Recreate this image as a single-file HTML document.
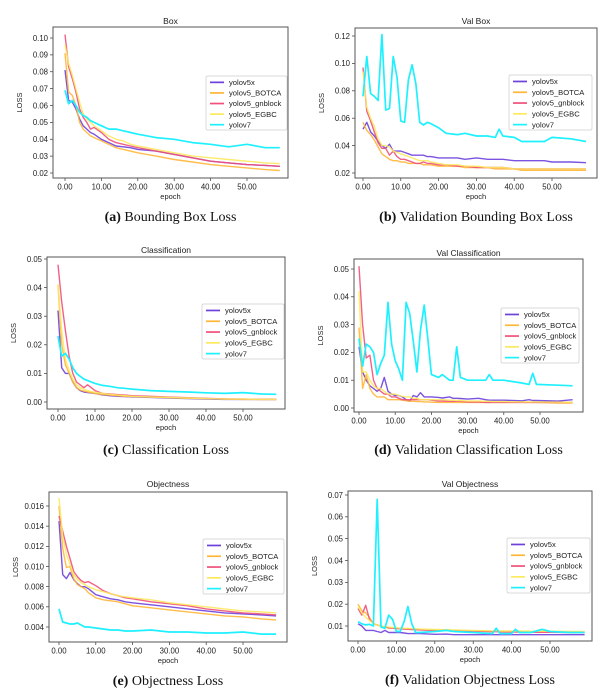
<!DOCTYPE html>
<html><head><meta charset="utf-8"><style>
html,body{margin:0;padding:0;background:#fff;}
svg{display:block;font-family:"Liberation Sans",sans-serif;}
.cap{font-family:"Liberation Serif",serif;font-size:14px;fill:#111;}
</style></head><body>
<svg id="fig" width="615" height="693" viewBox="0 0 615 693"></svg>
<script>
const seriesNames=["yolov5x","yolov5_BOTCA","yolov5_gnblock","yolov5_EGBC","yolov7"];
const seriesColors=["#6e40dc","#ffb638","#f0507a","#fbe95e","#1ff0ff"];
const xTicks=[0,10,20,30,40,50];

// (a) Box
const epochsA=[0,1,2,3,4,5,6,7,8,10,12,14,16,18,20,25,30,35,40,45,50,55,59];
const boxV5x=[.081,.063,.062,.058,.052,.048,.046,.044,.043,.040,.038,.036,.0355,.035,.034,.033,.031,.029,.027,.026,.025,.0245,.024];
const boxBotca=[.091,.068,.066,.060,.050,.046,.044,.042,.041,.039,.037,.035,.034,.033,.032,.030,.028,.0265,.025,.024,.023,.022,.0215];
const boxGn=[.102,.083,.076,.068,.058,.053,.050,.046,.047,.044,.040,.038,.037,.036,.035,.033,.031,.029,.027,.026,.025,.0245,.024];
const boxEgbc=[.096,.085,.078,.070,.062,.055,.052,.050,.048,.045,.042,.040,.039,.037,.036,.034,.032,.030,.029,.028,.027,.026,.0255];
const boxV7=[.069,.061,.063,.060,.056,.054,.053,.051,.050,.048,.046,.046,.045,.044,.043,.041,.040,.038,.037,.0355,.037,.035,.035];
const boxTicks=[.02,.03,.04,.05,.06,.07,.08,.09,.10];

// (b) Val Box
const epochsB=[0,1,2,3,4,5,6,7,8,9,10,11,12,13,14,15,16,17,18,20,22,25,27,30,33,35,36,37,40,42,45,48,50,55,59];
const vboxV5x=[.052,.057,.050,.047,.043,.040,.038,.041,.036,.036,.036,.035,.034,.033,.033,.033,.033,.032,.032,.031,.031,.031,.030,.031,.030,.030,.030,.030,.029,.029,.029,.029,.028,.028,.0275];
const vboxBotca=[.057,.051,.048,.044,.039,.034,.032,.030,.029,.029,.028,.028,.027,.027,.027,.027,.026,.026,.026,.025,.025,.025,.024,.024,.024,.023,.023,.023,.023,.022,.022,.022,.022,.022,.022];
const vboxGn=[.097,.065,.058,.050,.042,.038,.038,.033,.036,.032,.030,.030,.029,.028,.027,.027,.028,.027,.027,.026,.026,.025,.025,.024,.024,.024,.024,.024,.023,.023,.023,.023,.023,.023,.023];
const vboxEgbc=[.094,.068,.060,.054,.045,.040,.040,.039,.036,.035,.034,.033,.032,.031,.030,.029,.029,.029,.028,.027,.026,.026,.025,.025,.024,.024,.024,.024,.023,.023,.023,.023,.023,.023,.023];
const vboxV7=[.076,.105,.078,.076,.073,.121,.066,.067,.105,.090,.058,.057,.088,.099,.085,.057,.055,.057,.056,.053,.049,.048,.049,.047,.047,.046,.052,.047,.046,.043,.043,.043,.046,.045,.043];
const vboxTicks=[.02,.04,.06,.08,.10,.12];

// (c) Classification
const clsV5x=[.032,.012,.010,.010,.007,.005,.004,.0035,.0033,.003,.0025,.0022,.002,.0019,.0018,.0016,.0014,.0012,.001,.0009,.0009,.0009,.0009];
const clsBotca=[.041,.020,.013,.010,.007,.005,.0042,.0038,.0035,.003,.0026,.0024,.0022,.002,.0019,.0017,.0015,.0013,.0012,.001,.0009,.0009,.0009];
const clsGn=[.048,.035,.025,.016,.010,.007,.006,.005,.006,.004,.003,.0028,.0026,.0024,.0022,.002,.0017,.0015,.0013,.0011,.001,.0009,.0009];
const clsEgbc=[.041,.025,.015,.011,.008,.006,.005,.0045,.004,.0034,.003,.0027,.0024,.0022,.002,.0018,.0016,.0014,.0012,.001,.001,.0009,.0009];
const clsV7=[.023,.016,.017,.015,.012,.010,.009,.008,.0075,.0065,.0058,.0055,.005,.0048,.0045,.004,.0037,.0035,.0032,.003,.0033,.0028,.0027];
const clsTicks=[0,.01,.02,.03,.04,.05];

// (d) Val Classification
const epochsD=[0,1,2,3,4,5,6,7,8,9,10,11,12,13,14,15,16,17,18,19,20,22,23,25,26,27,28,30,33,35,36,37,40,45,47,48,49,55,59];
const vclsV5x=[.022,.013,.010,.008,.007,.006,.007,.011,.006,.005,.0045,.0045,.004,.003,.0025,.0045,.004,.0055,.004,.004,.004,.0038,.0036,.004,.0035,.0035,.0034,.0032,.0035,.003,.0028,.0028,.0028,.0026,.003,.0027,.0027,.0025,.003];
const vclsBotca=[.029,.007,.012,.007,.005,.004,.004,.004,.003,.003,.003,.003,.0028,.0026,.0024,.0024,.0023,.0023,.0022,.0022,.0021,.002,.002,.002,.002,.002,.002,.002,.002,.002,.002,.002,.002,.002,.002,.002,.002,.0018,.0018];
const vclsGn=[.051,.030,.018,.019,.010,.007,.006,.005,.005,.004,.004,.0035,.003,.003,.003,.003,.003,.003,.003,.003,.0028,.0025,.0025,.0024,.0024,.0024,.0024,.0022,.0022,.002,.002,.002,.002,.002,.002,.002,.002,.002,.002];
const vclsEgbc=[.042,.013,.013,.010,.008,.007,.007,.006,.005,.005,.005,.0045,.0042,.004,.004,.0035,.0035,.003,.003,.003,.003,.003,.003,.0028,.0028,.0027,.0027,.0025,.0025,.0024,.0024,.0023,.0023,.0022,.0022,.0022,.0022,.0021,.002];
const vclsV7=[.025,.015,.023,.022,.020,.012,.016,.019,.038,.023,.017,.014,.010,.038,.034,.024,.013,.028,.037,.025,.012,.011,.012,.010,.010,.022,.011,.010,.010,.010,.012,.010,.010,.009,.0085,.0125,.0085,.0082,.008];

// (e) Objectness
const objV5x=[.0145,.0092,.0088,.0094,.0087,.0083,.0080,.0080,.0078,.0072,.0070,.0068,.0067,.0065,.0064,.0062,.0060,.0058,.0056,.0054,.0053,.0052,.0051];
const objBotca=[.0160,.0118,.0099,.0100,.0088,.0082,.0080,.0078,.0074,.0069,.0067,.0066,.0065,.0063,.0061,.0059,.0057,.0055,.0053,.0051,.0050,.0048,.0047];
const objGn=[.0150,.0135,.0120,.0108,.0095,.0090,.0086,.0084,.0085,.0081,.0076,.0073,.0071,.0069,.0068,.0065,.0063,.0061,.0058,.0056,.0054,.0053,.0052];
const objEgbc=[.0168,.0130,.0112,.0102,.0092,.0087,.0084,.0082,.0080,.0077,.0075,.0073,.0071,.0070,.0069,.0067,.0064,.0062,.0060,.0058,.0056,.0055,.0054];
const objV7=[.0058,.0045,.0044,.0043,.0043,.0044,.0042,.0040,.0040,.0039,.0038,.0037,.0037,.0036,.0036,.0037,.0035,.0035,.0034,.0034,.0035,.0033,.0033];
const objTicks=[.004,.006,.008,.010,.012,.014,.016];

// (f) Val Objectness
const epochsF=[0,1,2,3,4,5,6,7,8,9,10,11,12,13,14,15,16,20,23,25,30,35,36,37,40,41,42,45,48,50,55,59];
const vobjV5x=[.011,.010,.008,.008,.008,.0075,.007,.008,.007,.007,.007,.007,.0068,.0065,.0065,.0065,.0065,.0062,.0063,.006,.006,.006,.006,.006,.006,.006,.006,.006,.006,.006,.006,.006];
const vobjBotca=[.020,.017,.016,.014,.011,.0105,.010,.0095,.009,.009,.009,.009,.0088,.0087,.0087,.0086,.0085,.0082,.0082,.008,.0078,.0076,.0076,.0075,.0075,.0075,.0075,.0074,.0074,.0074,.0073,.0073];
const vobjGn=[.018,.015,.0195,.013,.011,.0105,.010,.0095,.0092,.009,.0088,.0087,.0086,.0085,.0084,.0083,.0082,.0080,.008,.0078,.0076,.0074,.0074,.0073,.0072,.0072,.0072,.0071,.0071,.0071,.007,.007];
const vobjEgbc=[.019,.016,.014,.0125,.011,.0105,.010,.0097,.0095,.0093,.0092,.009,.009,.0089,.0088,.0087,.0086,.0084,.0083,.0082,.008,.0078,.0078,.0077,.0077,.0077,.0077,.0076,.0076,.0076,.0075,.0075];
const vobjV7=[.012,.011,.0105,.0108,.010,.068,.0095,.009,.015,.013,.0075,.0075,.012,.019,.011,.007,.007,.0075,.008,.0075,.007,.0065,.009,.0065,.0065,.0085,.007,.007,.0085,.0075,.007,.007];
const vobjTicks=[.01,.02,.03,.04,.05,.06,.07];

const NS="http://www.w3.org/2000/svg";
const svg=document.getElementById("fig");
function mk(tag,attrs,parent,txt){const e=document.createElementNS(NS,tag);for(const k in attrs)e.setAttribute(k,attrs[k]);if(txt!==undefined)e.textContent=txt;(parent||svg).appendChild(e);return e;}

function chart(c){
  const g=mk("g",{});
  
  
  const xs=v=>c.x0+(v-0)*(c.x50-c.x0)/50;
  const ys=v=>c.yb+(v-c.ylo)*(c.yt-c.yb)/(c.yhi-c.ylo);
  const t=mk("text",{x:(c.L+c.R)/2,y:c.titleY,"font-size":8.5,"text-anchor":"middle",fill:"#222"},g,c.title);
  
  
  c.yTicks.forEach(v=>{
    const y=ys(v);
    mk("line",{x1:c.L-3,x2:c.L,y1:y,y2:y,stroke:"#333","stroke-width":0.7},g);
    const l=mk("text",{x:c.L-5,y:y+2.8,"font-size":7.8,"text-anchor":"end",fill:"#222"},g,v.toFixed(c.dec));
    
    
  });
  xTicks.forEach(v=>{
    const x=xs(v);
    mk("line",{x1:x,x2:x,y1:c.B,y2:c.B+3,stroke:"#333","stroke-width":0.7},g);
    const l=mk("text",{x:x,y:c.B+11.5,"font-size":7.8,"text-anchor":"middle",fill:"#222"},g,v.toFixed(2));
    
    
  });
  const xl=mk("text",{x:(c.L+c.R)/2,y:c.B+21,"font-size":7.5,"text-anchor":"middle",fill:"#222"},g,"epoch");
  
  
  const yx=c.L-31, yy=(c.T+c.B)/2;
  const yl=mk("text",{x:yx,y:yy,"font-size":7.5,"text-anchor":"middle",fill:"#222",transform:`rotate(-90 ${yx} ${yy})`},g,"LOSS");
  
  
  c.series.forEach((s,i)=>{
    const d=s.map((v,j)=>(j?"L":"M")+xs(c.epochs[j]).toFixed(1)+","+ys(v).toFixed(1)).join("");
    const p=mk("path",{d:d,fill:"none",stroke:seriesColors[i],"stroke-width":i==4?1.7:1.4,"stroke-opacity":i==4?1:0.9,"stroke-linejoin":"round"},g);
    
    
  });
  const fr=mk("rect",{x:c.L,y:c.T,width:c.R-c.L,height:c.B-c.T,fill:"none",stroke:"#555","stroke-width":1},g);
  
  
  const lg=mk("g",{},g);
  
  
  mk("rect",{x:c.lx,y:c.ly,width:c.lw,height:c.lh,fill:"#fff",stroke:"#ccc","stroke-width":0.7,rx:1.5},lg);
  const step=c.lh/5.1;
  seriesNames.forEach((n,i)=>{
    const y=c.ly+step*(i+0.6);
    mk("line",{x1:c.lx+4,x2:c.lx+18,y1:y,y2:y,stroke:seriesColors[i],"stroke-width":1.7},lg);
    const e=mk("text",{x:c.lx+23,y:y+2.7,"font-size":7.6,fill:"#222"},lg,n);
    
    
  });
  const cp=mk("text",{x:(c.L+c.R)/2,y:c.capY,"text-anchor":"middle",class:"cap"},g);
  
  
  mk("tspan",{"font-weight":"bold"},cp,c.capL+" ");
  mk("tspan",{},cp,c.capT);
}

chart({id:"box",title:"Box",L:53,R:288,T:27,B:178,x0:65,x50:247,yb:173,yt:38,ylo:.02,yhi:.10,yTicks:boxTicks,dec:2,
  epochs:epochsA,series:[boxV5x,boxBotca,boxGn,boxEgbc,boxV7],lx:206,ly:76,lw:81,lh:54,titleY:24,capY:221,capL:"(a)",capT:"Bounding Box Loss"});
chart({id:"val-box",title:"Val Box",L:355,R:597,T:28,B:178,x0:363,x50:552,yb:173,yt:36,ylo:.02,yhi:.12,yTicks:vboxTicks,dec:2,
  epochs:epochsB,series:[vboxV5x,vboxBotca,vboxGn,vboxEgbc,vboxV7],lx:509,ly:75,lw:83,lh:55,titleY:24,capY:221,capL:"(b)",capT:"Validation Bounding Box Loss"});
chart({id:"cls",title:"Classification",L:47,R:285,T:257,B:409,x0:58,x50:243,yb:402,yt:259,ylo:0,yhi:.05,yTicks:clsTicks,dec:2,
  epochs:epochsA,series:[clsV5x,clsBotca,clsGn,clsEgbc,clsV7],lx:202,ly:304,lw:82,lh:55,titleY:253,capY:454,capL:"(c)",capT:"Classification Loss"});
chart({id:"val-cls",title:"Val Classification",L:354,R:583,T:259,B:412,x0:359,x50:540,yb:408,yt:269,ylo:0,yhi:.05,yTicks:clsTicks,dec:2,
  epochs:epochsD,series:[vclsV5x,vclsBotca,vclsGn,vclsEgbc,vclsV7],lx:501,ly:308,lw:78,lh:55,titleY:256,capY:454,capL:"(d)",capT:"Validation Classification Loss"});
chart({id:"obj",title:"Objectness",L:49,R:287,T:492,B:642,x0:59,x50:243,yb:627,yt:506,ylo:.004,yhi:.016,yTicks:objTicks,dec:3,
  epochs:epochsA,series:[objV5x,objBotca,objGn,objEgbc,objV7],lx:203,ly:539,lw:81,lh:55,titleY:487,capY:685,capL:"(e)",capT:"Objectness Loss"});
chart({id:"val-obj",title:"Val Objectness",L:348,R:592,T:491,B:641,x0:358,x50:550,yb:626,yt:495,ylo:.01,yhi:.07,yTicks:vobjTicks,dec:2,
  epochs:epochsF,series:[vobjV5x,vobjBotca,vobjGn,vobjEgbc,vobjV7],lx:507,ly:538,lw:83,lh:55,titleY:487,capY:684,capL:"(f)",capT:"Validation Objectness Loss"});
</script>
</body></html>
